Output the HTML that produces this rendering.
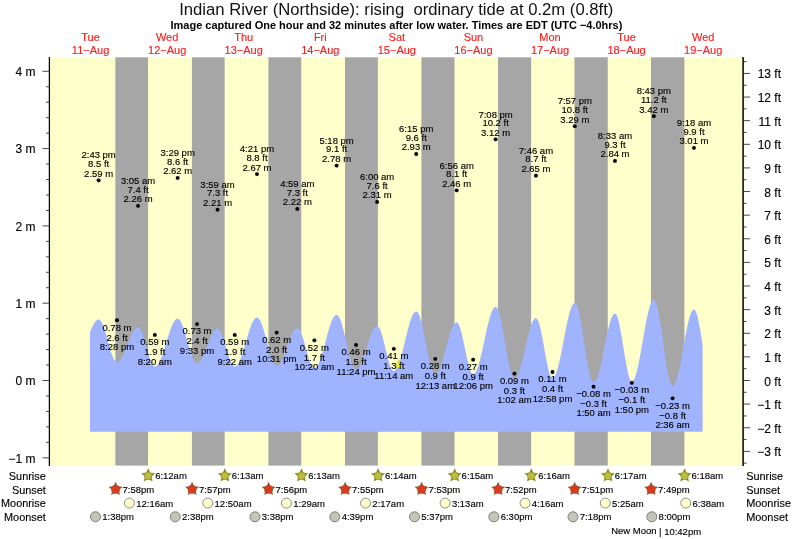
<!DOCTYPE html>
<html><head><meta charset="utf-8"><title>Indian River (Northside) tide times</title>
<style>html,body{margin:0;padding:0;background:#fff}svg{display:block;will-change:transform}</style></head>
<body>
<svg width="793" height="539" viewBox="0 0 793 539">
<rect width="793" height="539" fill="#fff"/>
<rect x="49.5" y="57.3" width="693.5" height="408.3" fill="#ffffcc"/>
<rect x="115.38" y="57.3" width="32.65" height="408.3" fill="#a6a6a6"/>
<rect x="191.90" y="57.3" width="32.76" height="408.3" fill="#a6a6a6"/>
<rect x="268.42" y="57.3" width="32.81" height="408.3" fill="#a6a6a6"/>
<rect x="344.95" y="57.3" width="32.92" height="408.3" fill="#a6a6a6"/>
<rect x="421.42" y="57.3" width="33.08" height="408.3" fill="#a6a6a6"/>
<rect x="497.94" y="57.3" width="33.18" height="408.3" fill="#a6a6a6"/>
<rect x="574.47" y="57.3" width="33.29" height="408.3" fill="#a6a6a6"/>
<rect x="650.94" y="57.3" width="33.45" height="408.3" fill="#a6a6a6"/>
<path d="M89.96,431.8 L89.96,332.41 90.40,331.26 90.83,330.14 91.27,329.07 91.71,328.03 92.15,327.04 92.58,326.11 93.02,325.22 93.46,324.39 93.90,323.62 94.33,322.91 94.77,322.26 95.21,321.67 95.65,321.15 96.08,320.70 96.52,320.32 96.96,320.01 97.40,319.76 97.83,319.60 98.27,319.50 98.71,319.48 99.15,319.56 99.59,319.76 100.02,320.08 100.46,320.52 100.90,321.07 101.34,321.73 101.77,322.50 102.21,323.37 102.65,324.34 103.09,325.40 103.52,326.54 103.96,327.77 104.40,329.07 104.84,330.44 105.27,331.86 105.71,333.34 106.15,334.85 106.59,336.40 107.02,337.98 107.46,339.57 107.90,341.16 108.34,342.76 108.77,344.34 109.21,345.91 109.65,347.44 110.09,348.94 110.52,350.39 110.96,351.79 111.40,353.13 111.84,354.40 112.28,355.59 112.71,356.70 113.15,357.71 113.59,358.64 114.03,359.46 114.46,360.18 114.90,360.79 115.34,361.29 115.78,361.68 116.21,361.94 116.65,362.09 117.09,362.12 117.53,362.06 117.96,361.93 118.40,361.73 118.84,361.45 119.28,361.11 119.71,360.69 120.15,360.21 120.59,359.66 121.03,359.05 121.46,358.37 121.90,357.64 122.34,356.85 122.78,356.01 123.21,355.13 123.65,354.20 124.09,353.23 124.53,352.22 124.96,351.18 125.40,350.11 125.84,349.02 126.28,347.91 126.72,346.79 127.15,345.66 127.59,344.53 128.03,343.39 128.47,342.26 128.90,341.15 129.34,340.04 129.78,338.96 130.22,337.90 130.65,336.87 131.09,335.87 131.53,334.91 131.97,333.99 132.40,333.12 132.84,332.30 133.28,331.52 133.72,330.81 134.15,330.15 134.59,329.55 135.03,329.02 135.47,328.56 135.90,328.16 136.34,327.84 136.78,327.58 137.22,327.40 137.65,327.29 138.09,327.25 138.53,327.32 138.97,327.52 139.41,327.85 139.84,328.31 140.28,328.90 140.72,329.60 141.16,330.43 141.59,331.36 142.03,332.40 142.47,333.53 142.91,334.76 143.34,336.07 143.78,337.45 144.22,338.90 144.66,340.39 145.09,341.94 145.53,343.51 145.97,345.11 146.41,346.73 146.84,348.34 147.28,349.94 147.72,351.53 148.16,353.08 148.59,354.59 149.03,356.05 149.47,357.45 149.91,358.78 150.34,360.02 150.78,361.18 151.22,362.25 151.66,363.21 152.10,364.06 152.53,364.79 152.97,365.41 153.41,365.90 153.85,366.26 154.28,366.49 154.72,366.59 155.16,366.58 155.60,366.47 156.03,366.27 156.47,366.00 156.91,365.63 157.35,365.18 157.78,364.66 158.22,364.05 158.66,363.36 159.10,362.60 159.53,361.77 159.97,360.86 160.41,359.90 160.85,358.86 161.28,357.77 161.72,356.63 162.16,355.43 162.60,354.19 163.03,352.91 163.47,351.59 163.91,350.24 164.35,348.86 164.78,347.45 165.22,346.03 165.66,344.60 166.10,343.16 166.54,341.72 166.97,340.28 167.41,338.86 167.85,337.44 168.29,336.05 168.72,334.67 169.16,333.33 169.60,332.02 170.04,330.75 170.47,329.53 170.91,328.35 171.35,327.22 171.79,326.15 172.22,325.14 172.66,324.19 173.10,323.31 173.54,322.50 173.97,321.77 174.41,321.11 174.85,320.53 175.29,320.02 175.72,319.61 176.16,319.27 176.60,319.02 177.04,318.86 177.47,318.78 177.91,318.79 178.35,318.91 178.79,319.15 179.23,319.49 179.66,319.95 180.10,320.51 180.54,321.17 180.98,321.94 181.41,322.80 181.85,323.75 182.29,324.79 182.73,325.91 183.16,327.11 183.60,328.37 184.04,329.71 184.48,331.09 184.91,332.53 185.35,334.01 185.79,335.53 186.23,337.08 186.66,338.64 187.10,340.22 187.54,341.80 187.98,343.38 188.41,344.94 188.85,346.49 189.29,348.00 189.73,349.49 190.16,350.93 190.60,352.32 191.04,353.65 191.48,354.92 191.91,356.12 192.35,357.25 192.79,358.29 193.23,359.24 193.67,360.11 194.10,360.87 194.54,361.54 194.98,362.10 195.42,362.56 195.85,362.91 196.29,363.15 196.73,363.28 197.17,363.30 197.60,363.23 198.04,363.08 198.48,362.86 198.92,362.56 199.35,362.19 199.79,361.74 200.23,361.22 200.67,360.64 201.10,359.98 201.54,359.27 201.98,358.49 202.42,357.66 202.85,356.77 203.29,355.84 203.73,354.86 204.17,353.84 204.60,352.78 205.04,351.69 205.48,350.58 205.92,349.45 206.36,348.30 206.79,347.14 207.23,345.97 207.67,344.80 208.11,343.64 208.54,342.49 208.98,341.35 209.42,340.24 209.86,339.14 210.29,338.08 210.73,337.06 211.17,336.07 211.61,335.13 212.04,334.23 212.48,333.39 212.92,332.60 213.36,331.87 213.79,331.21 214.23,330.61 214.67,330.08 215.11,329.62 215.54,329.23 215.98,328.92 216.42,328.68 216.86,328.52 217.29,328.44 217.73,328.44 218.17,328.56 218.61,328.80 219.05,329.16 219.48,329.63 219.92,330.22 220.36,330.92 220.80,331.73 221.23,332.64 221.67,333.64 222.11,334.73 222.55,335.90 222.98,337.15 223.42,338.47 223.86,339.84 224.30,341.26 224.73,342.72 225.17,344.21 225.61,345.73 226.05,347.25 226.48,348.78 226.92,350.30 227.36,351.80 227.80,353.27 228.23,354.71 228.67,356.10 229.11,357.43 229.55,358.70 229.98,359.90 230.42,361.03 230.86,362.06 231.30,363.00 231.73,363.84 232.17,364.58 232.61,365.21 233.05,365.72 233.49,366.12 233.92,366.40 234.36,366.56 234.80,366.60 235.24,366.53 235.67,366.37 236.11,366.12 236.55,365.78 236.99,365.35 237.42,364.83 237.86,364.22 238.30,363.53 238.74,362.76 239.17,361.90 239.61,360.98 240.05,359.98 240.49,358.91 240.92,357.78 241.36,356.59 241.80,355.34 242.24,354.05 242.67,352.71 243.11,351.32 243.55,349.91 243.99,348.46 244.42,346.99 244.86,345.50 245.30,344.00 245.74,342.49 246.18,340.98 246.61,339.47 247.05,337.97 247.49,336.49 247.93,335.03 248.36,333.60 248.80,332.20 249.24,330.83 249.68,329.51 250.11,328.24 250.55,327.02 250.99,325.86 251.43,324.76 251.86,323.72 252.30,322.76 252.74,321.87 253.18,321.05 253.61,320.32 254.05,319.67 254.49,319.10 254.93,318.62 255.36,318.23 255.80,317.94 256.24,317.73 256.68,317.62 257.11,317.60 257.55,317.69 257.99,317.90 258.43,318.22 258.86,318.66 259.30,319.22 259.74,319.88 260.18,320.65 260.62,321.52 261.05,322.49 261.49,323.56 261.93,324.71 262.37,325.95 262.80,327.26 263.24,328.65 263.68,330.10 264.12,331.60 264.55,333.16 264.99,334.75 265.43,336.39 265.87,338.04 266.30,339.72 266.74,341.40 267.18,343.09 267.62,344.77 268.05,346.43 268.49,348.08 268.93,349.69 269.37,351.26 269.80,352.79 270.24,354.26 270.68,355.67 271.12,357.01 271.55,358.28 271.99,359.47 272.43,360.57 272.87,361.58 273.31,362.49 273.74,363.31 274.18,364.01 274.62,364.61 275.06,365.10 275.49,365.47 275.93,365.73 276.37,365.86 276.81,365.89 277.24,365.82 277.68,365.67 278.12,365.43 278.56,365.12 278.99,364.72 279.43,364.25 279.87,363.70 280.31,363.07 280.74,362.38 281.18,361.61 281.62,360.78 282.06,359.89 282.49,358.95 282.93,357.95 283.37,356.90 283.81,355.81 284.24,354.68 284.68,353.52 285.12,352.32 285.56,351.11 286.00,349.87 286.43,348.62 286.87,347.37 287.31,346.11 287.75,344.86 288.18,343.62 288.62,342.40 289.06,341.19 289.50,340.01 289.93,338.86 290.37,337.75 290.81,336.68 291.25,335.65 291.68,334.68 292.12,333.76 292.56,332.90 293.00,332.10 293.43,331.37 293.87,330.71 294.31,330.12 294.75,329.60 295.18,329.16 295.62,328.81 296.06,328.53 296.50,328.34 296.93,328.22 297.37,328.20 297.81,328.28 298.25,328.50 298.68,328.84 299.12,329.31 299.56,329.90 300.00,330.61 300.44,331.44 300.87,332.37 301.31,333.40 301.75,334.54 302.19,335.76 302.62,337.06 303.06,338.43 303.50,339.87 303.94,341.36 304.37,342.90 304.81,344.47 305.25,346.06 305.69,347.67 306.12,349.28 306.56,350.89 307.00,352.48 307.44,354.04 307.87,355.56 308.31,357.03 308.75,358.45 309.19,359.80 309.62,361.08 310.06,362.27 310.50,363.38 310.94,364.38 311.37,365.28 311.81,366.07 312.25,366.74 312.69,367.29 313.13,367.72 313.56,368.03 314.00,368.20 314.44,368.25 314.88,368.18 315.31,368.01 315.75,367.74 316.19,367.38 316.63,366.91 317.06,366.34 317.50,365.69 317.94,364.94 318.38,364.10 318.81,363.17 319.25,362.16 319.69,361.08 320.13,359.92 320.56,358.68 321.00,357.39 321.44,356.03 321.88,354.62 322.31,353.16 322.75,351.66 323.19,350.11 323.63,348.54 324.06,346.93 324.50,345.31 324.94,343.67 325.38,342.03 325.81,340.38 326.25,338.74 326.69,337.11 327.13,335.50 327.57,333.91 328.00,332.35 328.44,330.82 328.88,329.34 329.32,327.91 329.75,326.52 330.19,325.19 330.63,323.93 331.07,322.74 331.50,321.61 331.94,320.57 332.38,319.60 332.82,318.72 333.25,317.92 333.69,317.22 334.13,316.61 334.57,316.09 335.00,315.67 335.44,315.36 335.88,315.14 336.32,315.02 336.75,315.01 337.19,315.13 337.63,315.38 338.07,315.76 338.50,316.28 338.94,316.93 339.38,317.71 339.82,318.61 340.26,319.62 340.69,320.75 341.13,321.99 341.57,323.33 342.01,324.76 342.44,326.28 342.88,327.88 343.32,329.56 343.76,331.29 344.19,333.09 344.63,334.92 345.07,336.80 345.51,338.70 345.94,340.62 346.38,342.55 346.82,344.48 347.26,346.40 347.69,348.30 348.13,350.16 348.57,351.99 349.01,353.77 349.44,355.49 349.88,357.15 350.32,358.74 350.76,360.24 351.19,361.65 351.63,362.97 352.07,364.18 352.51,365.28 352.95,366.27 353.38,367.14 353.82,367.89 354.26,368.51 354.70,369.00 355.13,369.35 355.57,369.58 356.01,369.66 356.45,369.63 356.88,369.50 357.32,369.28 357.76,368.97 358.20,368.57 358.63,368.08 359.07,367.50 359.51,366.84 359.95,366.11 360.38,365.29 360.82,364.40 361.26,363.44 361.70,362.41 362.13,361.32 362.57,360.17 363.01,358.97 363.45,357.72 363.88,356.43 364.32,355.11 364.76,353.75 365.20,352.37 365.63,350.97 366.07,349.56 366.51,348.13 366.95,346.71 367.39,345.30 367.82,343.89 368.26,342.50 368.70,341.13 369.14,339.80 369.57,338.49 370.01,337.23 370.45,336.01 370.89,334.84 371.32,333.73 371.76,332.68 372.20,331.69 372.64,330.77 373.07,329.93 373.51,329.16 373.95,328.47 374.39,327.86 374.82,327.34 375.26,326.91 375.70,326.56 376.14,326.31 376.57,326.15 377.01,326.08 377.45,326.12 377.89,326.31 378.32,326.65 378.76,327.13 379.20,327.76 379.64,328.54 380.08,329.44 380.51,330.48 380.95,331.63 381.39,332.91 381.83,334.28 382.26,335.75 382.70,337.31 383.14,338.95 383.58,340.65 384.01,342.40 384.45,344.19 384.89,346.01 385.33,347.85 385.76,349.69 386.20,351.52 386.64,353.34 387.08,355.12 387.51,356.85 387.95,358.53 388.39,360.14 388.83,361.67 389.26,363.11 389.70,364.45 390.14,365.69 390.58,366.80 391.01,367.80 391.45,368.66 391.89,369.38 392.33,369.96 392.76,370.40 393.20,370.69 393.64,370.83 394.08,370.82 394.52,370.70 394.95,370.47 395.39,370.12 395.83,369.67 396.27,369.11 396.70,368.44 397.14,367.67 397.58,366.80 398.02,365.84 398.45,364.78 398.89,363.63 399.33,362.40 399.77,361.09 400.20,359.70 400.64,358.24 401.08,356.72 401.52,355.14 401.95,353.51 402.39,351.83 402.83,350.11 403.27,348.36 403.70,346.58 404.14,344.77 404.58,342.96 405.02,341.14 405.45,339.32 405.89,337.50 406.33,335.70 406.77,333.92 407.21,332.17 407.64,330.45 408.08,328.77 408.52,327.14 408.96,325.56 409.39,324.04 409.83,322.58 410.27,321.19 410.71,319.88 411.14,318.65 411.58,317.51 412.02,316.45 412.46,315.49 412.89,314.62 413.33,313.85 413.77,313.19 414.21,312.63 414.64,312.18 415.08,311.84 415.52,311.60 415.96,311.48 416.39,311.48 416.83,311.63 417.27,311.94 417.71,312.42 418.14,313.05 418.58,313.83 419.02,314.77 419.46,315.85 419.90,317.07 420.33,318.42 420.77,319.90 421.21,321.50 421.65,323.21 422.08,325.03 422.52,326.93 422.96,328.91 423.40,330.97 423.83,333.09 424.27,335.26 424.71,337.46 425.15,339.70 425.58,341.95 426.02,344.20 426.46,346.45 426.90,348.67 427.33,350.87 427.77,353.02 428.21,355.12 428.65,357.15 429.08,359.11 429.52,360.98 429.96,362.76 430.40,364.43 430.83,365.99 431.27,367.43 431.71,368.74 432.15,369.91 432.58,370.94 433.02,371.83 433.46,372.56 433.90,373.13 434.34,373.55 434.77,373.81 435.21,373.90 435.65,373.86 436.09,373.71 436.52,373.45 436.96,373.10 437.40,372.63 437.84,372.07 438.27,371.41 438.71,370.66 439.15,369.81 439.59,368.88 440.02,367.86 440.46,366.75 440.90,365.58 441.34,364.33 441.77,363.01 442.21,361.64 442.65,360.20 443.09,358.72 443.52,357.20 443.96,355.64 444.40,354.05 444.84,352.43 445.27,350.80 445.71,349.16 446.15,347.51 446.59,345.87 447.03,344.23 447.46,342.61 447.90,341.02 448.34,339.45 448.78,337.92 449.21,336.44 449.65,335.00 450.09,333.61 450.53,332.29 450.96,331.03 451.40,329.84 451.84,328.73 452.28,327.70 452.71,326.75 453.15,325.89 453.59,325.13 454.03,324.45 454.46,323.88 454.90,323.40 455.34,323.03 455.78,322.76 456.21,322.60 456.65,322.54 457.09,322.62 457.53,322.88 457.96,323.31 458.40,323.92 458.84,324.70 459.28,325.65 459.71,326.75 460.15,328.00 460.59,329.39 461.03,330.91 461.47,332.56 461.90,334.31 462.34,336.17 462.78,338.10 463.22,340.11 463.65,342.18 464.09,344.28 464.53,346.42 464.97,348.57 465.40,350.72 465.84,352.85 466.28,354.95 466.72,357.00 467.15,359.00 467.59,360.92 468.03,362.75 468.47,364.48 468.90,366.10 469.34,367.60 469.78,368.96 470.22,370.18 470.65,371.25 471.09,372.16 471.53,372.90 471.97,373.47 472.40,373.87 472.84,374.09 473.28,374.13 473.72,374.04 474.16,373.81 474.59,373.47 475.03,373.00 475.47,372.40 475.91,371.69 476.34,370.86 476.78,369.92 477.22,368.87 477.66,367.71 478.09,366.45 478.53,365.09 478.97,363.64 479.41,362.11 479.84,360.49 480.28,358.80 480.72,357.04 481.16,355.22 481.59,353.34 482.03,351.41 482.47,349.45 482.91,347.45 483.34,345.42 483.78,343.38 484.22,341.33 484.66,339.27 485.09,337.22 485.53,335.18 485.97,333.16 486.41,331.17 486.85,329.22 487.28,327.30 487.72,325.44 488.16,323.63 488.60,321.89 489.03,320.22 489.47,318.62 489.91,317.11 490.35,315.68 490.78,314.35 491.22,313.11 491.66,311.98 492.10,310.95 492.53,310.04 492.97,309.24 493.41,308.56 493.85,308.00 494.28,307.56 494.72,307.24 495.16,307.05 495.60,306.99 496.03,307.08 496.47,307.36 496.91,307.83 497.35,308.49 497.78,309.33 498.22,310.35 498.66,311.53 499.10,312.89 499.53,314.40 499.97,316.07 500.41,317.87 500.85,319.81 501.29,321.87 501.72,324.04 502.16,326.31 502.60,328.67 503.04,331.10 503.47,333.60 503.91,336.14 504.35,338.72 504.79,341.32 505.22,343.92 505.66,346.52 506.10,349.10 506.54,351.65 506.97,354.14 507.41,356.58 507.85,358.94 508.29,361.22 508.72,363.39 509.16,365.46 509.60,367.40 510.04,369.22 510.47,370.89 510.91,372.41 511.35,373.77 511.79,374.97 512.22,375.99 512.66,376.84 513.10,377.51 513.54,377.99 513.98,378.28 514.41,378.38 514.85,378.32 515.29,378.14 515.73,377.84 516.16,377.41 516.60,376.87 517.04,376.21 517.48,375.43 517.91,374.55 518.35,373.55 518.79,372.45 519.23,371.26 519.66,369.96 520.10,368.58 520.54,367.12 520.98,365.58 521.41,363.96 521.85,362.29 522.29,360.55 522.73,358.77 523.16,356.94 523.60,355.08 524.04,353.18 524.48,351.27 524.91,349.35 525.35,347.42 525.79,345.49 526.23,343.58 526.66,341.68 527.10,339.81 527.54,337.98 527.98,336.18 528.42,334.44 528.85,332.75 529.29,331.13 529.73,329.58 530.17,328.10 530.60,326.70 531.04,325.40 531.48,324.18 531.92,323.07 532.35,322.05 532.79,321.15 533.23,320.36 533.67,319.67 534.10,319.11 534.54,318.67 534.98,318.34 535.42,318.14 535.85,318.06 536.29,318.14 536.73,318.42 537.17,318.90 537.60,319.59 538.04,320.46 538.48,321.53 538.92,322.78 539.35,324.20 539.79,325.78 540.23,327.52 540.67,329.40 541.11,331.40 541.54,333.52 541.98,335.74 542.42,338.04 542.86,340.41 543.29,342.83 543.73,345.29 544.17,347.76 544.61,350.24 545.04,352.70 545.48,355.13 545.92,357.51 546.36,359.83 546.79,362.06 547.23,364.20 547.67,366.22 548.11,368.12 548.54,369.89 548.98,371.50 549.42,372.95 549.86,374.23 550.29,375.33 550.73,376.24 551.17,376.96 551.61,377.48 552.04,377.80 552.48,377.91 552.92,377.84 553.36,377.64 553.80,377.29 554.23,376.80 554.67,376.17 555.11,375.41 555.55,374.52 555.98,373.49 556.42,372.34 556.86,371.07 557.30,369.68 557.73,368.18 558.17,366.57 558.61,364.87 559.05,363.07 559.48,361.18 559.92,359.22 560.36,357.19 560.80,355.09 561.23,352.93 561.67,350.73 562.11,348.49 562.55,346.22 562.98,343.93 563.42,341.62 563.86,339.31 564.30,337.00 564.73,334.71 565.17,332.44 565.61,330.20 566.05,328.00 566.48,325.84 566.92,323.74 567.36,321.71 567.80,319.74 568.24,317.86 568.67,316.06 569.11,314.35 569.55,312.74 569.99,311.24 570.42,309.85 570.86,308.57 571.30,307.42 571.74,306.39 572.17,305.50 572.61,304.73 573.05,304.10 573.49,303.61 573.92,303.26 574.36,303.05 574.80,302.98 575.24,303.10 575.67,303.42 576.11,303.96 576.55,304.70 576.99,305.65 577.42,306.79 577.86,308.13 578.30,309.65 578.74,311.36 579.17,313.22 579.61,315.25 580.05,317.42 580.49,319.73 580.93,322.16 581.36,324.70 581.80,327.34 582.24,330.06 582.68,332.85 583.11,335.69 583.55,338.57 583.99,341.47 584.43,344.37 584.86,347.27 585.30,350.15 585.74,352.98 586.18,355.76 586.61,358.46 587.05,361.09 587.49,363.61 587.93,366.02 588.36,368.31 588.80,370.46 589.24,372.46 589.68,374.30 590.11,375.98 590.55,377.47 590.99,378.78 591.43,379.89 591.86,380.80 592.30,381.51 592.74,382.01 593.18,382.30 593.61,382.38 594.05,382.29 594.49,382.06 594.93,381.69 595.37,381.18 595.80,380.54 596.24,379.76 596.68,378.85 597.12,377.81 597.55,376.65 597.99,375.37 598.43,373.98 598.87,372.48 599.30,370.89 599.74,369.19 600.18,367.41 600.62,365.55 601.05,363.62 601.49,361.63 601.93,359.57 602.37,357.47 602.80,355.33 603.24,353.16 603.68,350.97 604.12,348.77 604.55,346.56 604.99,344.36 605.43,342.18 605.87,340.02 606.30,337.89 606.74,335.80 607.18,333.76 607.62,331.79 608.06,329.87 608.49,328.04 608.93,326.28 609.37,324.62 609.81,323.05 610.24,321.58 610.68,320.22 611.12,318.97 611.56,317.85 611.99,316.85 612.43,315.98 612.87,315.23 613.31,314.63 613.74,314.16 614.18,313.83 614.62,313.64 615.06,313.59 615.49,313.74 615.93,314.11 616.37,314.70 616.81,315.51 617.24,316.53 617.68,317.76 618.12,319.18 618.56,320.79 618.99,322.58 619.43,324.53 619.87,326.64 620.31,328.88 620.75,331.25 621.18,333.72 621.62,336.29 622.06,338.92 622.50,341.62 622.93,344.35 623.37,347.10 623.81,349.86 624.25,352.60 624.68,355.30 625.12,357.95 625.56,360.54 626.00,363.03 626.43,365.42 626.87,367.69 627.31,369.82 627.75,371.81 628.18,373.64 628.62,375.29 629.06,376.75 629.50,378.02 629.93,379.08 630.37,379.94 630.81,380.58 631.25,381.00 631.68,381.19 632.12,381.18 632.56,380.99 633.00,380.66 633.43,380.16 633.87,379.51 634.31,378.71 634.75,377.76 635.19,376.66 635.62,375.42 636.06,374.04 636.50,372.53 636.94,370.90 637.37,369.15 637.81,367.29 638.25,365.32 638.69,363.26 639.12,361.10 639.56,358.87 640.00,356.56 640.44,354.19 640.87,351.77 641.31,349.31 641.75,346.81 642.19,344.28 642.62,341.74 643.06,339.20 643.50,336.66 643.94,334.14 644.37,331.64 644.81,329.18 645.25,326.76 645.69,324.40 646.12,322.09 646.56,319.87 647.00,317.72 647.44,315.66 647.88,313.70 648.31,311.85 648.75,310.10 649.19,308.48 649.63,306.98 650.06,305.62 650.50,304.39 650.94,303.30 651.38,302.36 651.81,301.56 652.25,300.93 652.69,300.44 653.13,300.11 653.56,299.95 654.00,299.94 654.44,300.16 654.88,300.61 655.31,301.28 655.75,302.18 656.19,303.29 656.63,304.62 657.06,306.15 657.50,307.88 657.94,309.80 658.38,311.89 658.81,314.15 659.25,316.57 659.69,319.12 660.13,321.81 660.56,324.60 661.00,327.50 661.44,330.48 661.88,333.52 662.32,336.62 662.75,339.75 663.19,342.89 663.63,346.04 664.07,349.17 664.50,352.26 664.94,355.31 665.38,358.29 665.82,361.19 666.25,363.99 666.69,366.67 667.13,369.23 667.57,371.65 668.00,373.91 668.44,376.01 668.88,377.93 669.32,379.66 669.75,381.20 670.19,382.53 670.63,383.65 671.07,384.55 671.50,385.22 671.94,385.67 672.38,385.89 672.82,385.90 673.25,385.73 673.69,385.41 674.13,384.93 674.57,384.30 675.01,383.52 675.44,382.59 675.88,381.52 676.32,380.30 676.76,378.96 677.19,377.48 677.63,375.88 678.07,374.16 678.51,372.34 678.94,370.41 679.38,368.39 679.82,366.29 680.26,364.10 680.69,361.85 681.13,359.54 681.57,357.19 682.01,354.79 682.44,352.37 682.88,349.92 683.32,347.47 683.76,345.02 684.19,342.58 684.63,340.16 685.07,337.77 685.51,335.42 685.94,333.13 686.38,330.89 686.82,328.72 687.26,326.64 687.70,324.64 688.13,322.73 688.57,320.93 689.01,319.24 689.45,317.67 689.88,316.22 690.32,314.91 690.76,313.72 691.20,312.68 691.63,311.79 692.07,311.04 692.51,310.44 692.95,310.00 693.38,309.72 693.82,309.59 694.26,309.63 694.70,309.90 695.13,310.38 695.57,311.07 696.01,311.98 696.45,313.09 696.88,314.41 697.32,315.91 697.76,317.60 698.20,319.46 698.63,321.48 699.07,323.65 699.51,325.96 699.95,328.39 700.38,330.93 700.82,333.55 701.26,336.26 701.70,339.02 702.14,341.83 702.57,344.66 L702.57,431.8 Z" fill="#a0b3ff"/>
<g stroke="#000" stroke-width="1.25">
<line x1="49.4" y1="57.099999999999994" x2="49.4" y2="466.0"/>
<line x1="743.1" y1="57.099999999999994" x2="743.1" y2="466.0" stroke-width="1.5"/>
</g><g stroke="#1a1a1a" stroke-width="0.8">
<line x1="42.5" y1="457.80" x2="49.5" y2="457.80"/>
<line x1="46.0" y1="442.34" x2="49.5" y2="442.34"/>
<line x1="46.0" y1="426.88" x2="49.5" y2="426.88"/>
<line x1="46.0" y1="411.42" x2="49.5" y2="411.42"/>
<line x1="46.0" y1="395.96" x2="49.5" y2="395.96"/>
<line x1="42.5" y1="380.50" x2="49.5" y2="380.50"/>
<line x1="46.0" y1="365.04" x2="49.5" y2="365.04"/>
<line x1="46.0" y1="349.58" x2="49.5" y2="349.58"/>
<line x1="46.0" y1="334.12" x2="49.5" y2="334.12"/>
<line x1="46.0" y1="318.66" x2="49.5" y2="318.66"/>
<line x1="42.5" y1="303.20" x2="49.5" y2="303.20"/>
<line x1="46.0" y1="287.74" x2="49.5" y2="287.74"/>
<line x1="46.0" y1="272.28" x2="49.5" y2="272.28"/>
<line x1="46.0" y1="256.82" x2="49.5" y2="256.82"/>
<line x1="46.0" y1="241.36" x2="49.5" y2="241.36"/>
<line x1="42.5" y1="225.90" x2="49.5" y2="225.90"/>
<line x1="46.0" y1="210.44" x2="49.5" y2="210.44"/>
<line x1="46.0" y1="194.98" x2="49.5" y2="194.98"/>
<line x1="46.0" y1="179.52" x2="49.5" y2="179.52"/>
<line x1="46.0" y1="164.06" x2="49.5" y2="164.06"/>
<line x1="42.5" y1="148.60" x2="49.5" y2="148.60"/>
<line x1="46.0" y1="133.14" x2="49.5" y2="133.14"/>
<line x1="46.0" y1="117.68" x2="49.5" y2="117.68"/>
<line x1="46.0" y1="102.22" x2="49.5" y2="102.22"/>
<line x1="46.0" y1="86.76" x2="49.5" y2="86.76"/>
<line x1="42.5" y1="71.30" x2="49.5" y2="71.30"/>
<line x1="743.0" y1="463.17" x2="746.5" y2="463.17"/>
<line x1="743.0" y1="451.36" x2="750.0" y2="451.36"/>
<line x1="743.0" y1="439.55" x2="746.5" y2="439.55"/>
<line x1="743.0" y1="427.74" x2="750.0" y2="427.74"/>
<line x1="743.0" y1="415.93" x2="746.5" y2="415.93"/>
<line x1="743.0" y1="404.12" x2="750.0" y2="404.12"/>
<line x1="743.0" y1="392.31" x2="746.5" y2="392.31"/>
<line x1="743.0" y1="380.50" x2="750.0" y2="380.50"/>
<line x1="743.0" y1="368.69" x2="746.5" y2="368.69"/>
<line x1="743.0" y1="356.88" x2="750.0" y2="356.88"/>
<line x1="743.0" y1="345.07" x2="746.5" y2="345.07"/>
<line x1="743.0" y1="333.26" x2="750.0" y2="333.26"/>
<line x1="743.0" y1="321.45" x2="746.5" y2="321.45"/>
<line x1="743.0" y1="309.64" x2="750.0" y2="309.64"/>
<line x1="743.0" y1="297.83" x2="746.5" y2="297.83"/>
<line x1="743.0" y1="286.02" x2="750.0" y2="286.02"/>
<line x1="743.0" y1="274.21" x2="746.5" y2="274.21"/>
<line x1="743.0" y1="262.40" x2="750.0" y2="262.40"/>
<line x1="743.0" y1="250.59" x2="746.5" y2="250.59"/>
<line x1="743.0" y1="238.78" x2="750.0" y2="238.78"/>
<line x1="743.0" y1="226.97" x2="746.5" y2="226.97"/>
<line x1="743.0" y1="215.16" x2="750.0" y2="215.16"/>
<line x1="743.0" y1="203.35" x2="746.5" y2="203.35"/>
<line x1="743.0" y1="191.54" x2="750.0" y2="191.54"/>
<line x1="743.0" y1="179.73" x2="746.5" y2="179.73"/>
<line x1="743.0" y1="167.92" x2="750.0" y2="167.92"/>
<line x1="743.0" y1="156.11" x2="746.5" y2="156.11"/>
<line x1="743.0" y1="144.30" x2="750.0" y2="144.30"/>
<line x1="743.0" y1="132.49" x2="746.5" y2="132.49"/>
<line x1="743.0" y1="120.68" x2="750.0" y2="120.68"/>
<line x1="743.0" y1="108.87" x2="746.5" y2="108.87"/>
<line x1="743.0" y1="97.06" x2="750.0" y2="97.06"/>
<line x1="743.0" y1="85.25" x2="746.5" y2="85.25"/>
<line x1="743.0" y1="73.44" x2="750.0" y2="73.44"/>
<line x1="743.0" y1="61.63" x2="746.5" y2="61.63"/>
</g>
<g font-family="'Liberation Sans', Arial, Helvetica, sans-serif" fill="#000" stroke="#000" stroke-width="0.14">
<text x="35.5" y="462.50" font-size="12" text-anchor="end">−1 m</text>
<text x="35.5" y="385.20" font-size="12" text-anchor="end">0 m</text>
<text x="35.5" y="307.90" font-size="12" text-anchor="end">1 m</text>
<text x="35.5" y="230.60" font-size="12" text-anchor="end">2 m</text>
<text x="35.5" y="153.30" font-size="12" text-anchor="end">3 m</text>
<text x="35.5" y="76.00" font-size="12" text-anchor="end">4 m</text>
<text x="781" y="456.36" font-size="12" text-anchor="end">−3 ft</text>
<text x="781" y="432.74" font-size="12" text-anchor="end">−2 ft</text>
<text x="781" y="409.12" font-size="12" text-anchor="end">−1 ft</text>
<text x="781" y="385.50" font-size="12" text-anchor="end">0 ft</text>
<text x="781" y="361.88" font-size="12" text-anchor="end">1 ft</text>
<text x="781" y="338.26" font-size="12" text-anchor="end">2 ft</text>
<text x="781" y="314.64" font-size="12" text-anchor="end">3 ft</text>
<text x="781" y="291.02" font-size="12" text-anchor="end">4 ft</text>
<text x="781" y="267.40" font-size="12" text-anchor="end">5 ft</text>
<text x="781" y="243.78" font-size="12" text-anchor="end">6 ft</text>
<text x="781" y="220.16" font-size="12" text-anchor="end">7 ft</text>
<text x="781" y="196.54" font-size="12" text-anchor="end">8 ft</text>
<text x="781" y="172.92" font-size="12" text-anchor="end">9 ft</text>
<text x="781" y="149.30" font-size="12" text-anchor="end">10 ft</text>
<text x="781" y="125.68" font-size="12" text-anchor="end">11 ft</text>
<text x="781" y="102.06" font-size="12" text-anchor="end">12 ft</text>
<text x="781" y="78.44" font-size="12" text-anchor="end">13 ft</text>
<text x="396.3" y="14.5" font-size="16.66" stroke="none" fill="#111" text-anchor="middle" xml:space="preserve" style="white-space:pre">Indian River (Northside): rising  ordinary tide at 0.2m (0.8ft)</text>
<text x="396.45" y="28.5" font-size="10.97" stroke="none" font-weight="bold" text-anchor="middle">Image captured One hour and 32 minutes after low water. Times are EDT (UTC −4.0hrs)</text>
<text x="90.56" y="41.2" font-size="11" fill="#ff1a1a" stroke="#ff1a1a" text-anchor="middle">Tue</text>
<text x="90.56" y="53.6" font-size="11" fill="#ff1a1a" stroke="#ff1a1a" text-anchor="middle">11−Aug</text>
<text x="167.14" y="41.2" font-size="11" fill="#ff1a1a" stroke="#ff1a1a" text-anchor="middle">Wed</text>
<text x="167.14" y="53.6" font-size="11" fill="#ff1a1a" stroke="#ff1a1a" text-anchor="middle">12−Aug</text>
<text x="243.71" y="41.2" font-size="11" fill="#ff1a1a" stroke="#ff1a1a" text-anchor="middle">Thu</text>
<text x="243.71" y="53.6" font-size="11" fill="#ff1a1a" stroke="#ff1a1a" text-anchor="middle">13−Aug</text>
<text x="320.29" y="41.2" font-size="11" fill="#ff1a1a" stroke="#ff1a1a" text-anchor="middle">Fri</text>
<text x="320.29" y="53.6" font-size="11" fill="#ff1a1a" stroke="#ff1a1a" text-anchor="middle">14−Aug</text>
<text x="396.87" y="41.2" font-size="11" fill="#ff1a1a" stroke="#ff1a1a" text-anchor="middle">Sat</text>
<text x="396.87" y="53.6" font-size="11" fill="#ff1a1a" stroke="#ff1a1a" text-anchor="middle">15−Aug</text>
<text x="473.44" y="41.2" font-size="11" fill="#ff1a1a" stroke="#ff1a1a" text-anchor="middle">Sun</text>
<text x="473.44" y="53.6" font-size="11" fill="#ff1a1a" stroke="#ff1a1a" text-anchor="middle">16−Aug</text>
<text x="550.02" y="41.2" font-size="11" fill="#ff1a1a" stroke="#ff1a1a" text-anchor="middle">Mon</text>
<text x="550.02" y="53.6" font-size="11" fill="#ff1a1a" stroke="#ff1a1a" text-anchor="middle">17−Aug</text>
<text x="626.60" y="41.2" font-size="11" fill="#ff1a1a" stroke="#ff1a1a" text-anchor="middle">Tue</text>
<text x="626.60" y="53.6" font-size="11" fill="#ff1a1a" stroke="#ff1a1a" text-anchor="middle">18−Aug</text>
<text x="703.17" y="41.2" font-size="11" fill="#ff1a1a" stroke="#ff1a1a" text-anchor="middle">Wed</text>
<text x="703.17" y="53.6" font-size="11" fill="#ff1a1a" stroke="#ff1a1a" text-anchor="middle">19−Aug</text>
<path d="M398.5,359.7 L403.1,367.8 L395.6,367.8 Z" fill="#f2f230" stroke="#b4b420" stroke-width="0.5"/>
<circle cx="98.63" cy="180.29" r="1.9" fill="#000"/>
<text x="98.63" y="176.69" font-size="9.5" text-anchor="middle">2.59 m</text>
<text x="98.63" y="166.99" font-size="9.5" text-anchor="middle">8.5 ft</text>
<text x="98.63" y="158.49" font-size="9.5" text-anchor="middle">2:43 pm</text>
<circle cx="116.97" cy="320.21" r="1.9" fill="#000"/>
<text x="116.97" y="330.51" font-size="9.5" text-anchor="middle">0.78 m</text>
<text x="116.97" y="340.61" font-size="9.5" text-anchor="middle">2.6 ft</text>
<text x="116.97" y="349.91" font-size="9.5" text-anchor="middle">8:28 pm</text>
<circle cx="138.08" cy="205.80" r="1.9" fill="#000"/>
<text x="138.08" y="202.20" font-size="9.5" text-anchor="middle">2.26 m</text>
<text x="138.08" y="192.50" font-size="9.5" text-anchor="middle">7.4 ft</text>
<text x="138.08" y="184.00" font-size="9.5" text-anchor="middle">3:05 am</text>
<circle cx="154.84" cy="334.89" r="1.9" fill="#000"/>
<text x="154.84" y="345.19" font-size="9.5" text-anchor="middle">0.59 m</text>
<text x="154.84" y="355.29" font-size="9.5" text-anchor="middle">1.9 ft</text>
<text x="154.84" y="364.59" font-size="9.5" text-anchor="middle">8:20 am</text>
<circle cx="177.65" cy="177.97" r="1.9" fill="#000"/>
<text x="177.65" y="174.37" font-size="9.5" text-anchor="middle">2.62 m</text>
<text x="177.65" y="164.67" font-size="9.5" text-anchor="middle">8.6 ft</text>
<text x="177.65" y="156.17" font-size="9.5" text-anchor="middle">3:29 pm</text>
<circle cx="197.01" cy="324.07" r="1.9" fill="#000"/>
<text x="197.01" y="334.37" font-size="9.5" text-anchor="middle">0.73 m</text>
<text x="197.01" y="344.47" font-size="9.5" text-anchor="middle">2.4 ft</text>
<text x="197.01" y="353.77" font-size="9.5" text-anchor="middle">9:33 pm</text>
<circle cx="217.53" cy="209.67" r="1.9" fill="#000"/>
<text x="217.53" y="206.07" font-size="9.5" text-anchor="middle">2.21 m</text>
<text x="217.53" y="196.37" font-size="9.5" text-anchor="middle">7.3 ft</text>
<text x="217.53" y="187.87" font-size="9.5" text-anchor="middle">3:59 am</text>
<circle cx="234.71" cy="334.89" r="1.9" fill="#000"/>
<text x="234.71" y="345.19" font-size="9.5" text-anchor="middle">0.59 m</text>
<text x="234.71" y="355.29" font-size="9.5" text-anchor="middle">1.9 ft</text>
<text x="234.71" y="364.59" font-size="9.5" text-anchor="middle">9:22 am</text>
<circle cx="256.99" cy="174.11" r="1.9" fill="#000"/>
<text x="256.99" y="170.51" font-size="9.5" text-anchor="middle">2.67 m</text>
<text x="256.99" y="160.81" font-size="9.5" text-anchor="middle">8.8 ft</text>
<text x="256.99" y="152.31" font-size="9.5" text-anchor="middle">4:21 pm</text>
<circle cx="276.67" cy="332.57" r="1.9" fill="#000"/>
<text x="276.67" y="342.87" font-size="9.5" text-anchor="middle">0.62 m</text>
<text x="276.67" y="352.97" font-size="9.5" text-anchor="middle">2.0 ft</text>
<text x="276.67" y="362.27" font-size="9.5" text-anchor="middle">10:31 pm</text>
<circle cx="297.30" cy="208.89" r="1.9" fill="#000"/>
<text x="297.30" y="205.29" font-size="9.5" text-anchor="middle">2.22 m</text>
<text x="297.30" y="195.59" font-size="9.5" text-anchor="middle">7.3 ft</text>
<text x="297.30" y="187.09" font-size="9.5" text-anchor="middle">4:59 am</text>
<circle cx="314.37" cy="340.30" r="1.9" fill="#000"/>
<text x="314.37" y="350.60" font-size="9.5" text-anchor="middle">0.52 m</text>
<text x="314.37" y="360.70" font-size="9.5" text-anchor="middle">1.7 ft</text>
<text x="314.37" y="370.00" font-size="9.5" text-anchor="middle">10:20 am</text>
<circle cx="336.60" cy="165.61" r="1.9" fill="#000"/>
<text x="336.60" y="162.01" font-size="9.5" text-anchor="middle">2.78 m</text>
<text x="336.60" y="152.31" font-size="9.5" text-anchor="middle">9.1 ft</text>
<text x="336.60" y="143.81" font-size="9.5" text-anchor="middle">5:18 pm</text>
<circle cx="356.06" cy="344.94" r="1.9" fill="#000"/>
<text x="356.06" y="355.24" font-size="9.5" text-anchor="middle">0.46 m</text>
<text x="356.06" y="365.34" font-size="9.5" text-anchor="middle">1.5 ft</text>
<text x="356.06" y="374.64" font-size="9.5" text-anchor="middle">11:24 pm</text>
<circle cx="377.12" cy="201.94" r="1.9" fill="#000"/>
<text x="377.12" y="198.34" font-size="9.5" text-anchor="middle">2.31 m</text>
<text x="377.12" y="188.64" font-size="9.5" text-anchor="middle">7.6 ft</text>
<text x="377.12" y="180.14" font-size="9.5" text-anchor="middle">6:00 am</text>
<circle cx="393.82" cy="348.81" r="1.9" fill="#000"/>
<text x="393.82" y="359.11" font-size="9.5" text-anchor="middle">0.41 m</text>
<text x="393.82" y="369.21" font-size="9.5" text-anchor="middle">1.3 ft</text>
<text x="393.82" y="378.51" font-size="9.5" text-anchor="middle">11:14 am</text>
<circle cx="416.21" cy="154.01" r="1.9" fill="#000"/>
<text x="416.21" y="150.41" font-size="9.5" text-anchor="middle">2.93 m</text>
<text x="416.21" y="140.71" font-size="9.5" text-anchor="middle">9.6 ft</text>
<text x="416.21" y="132.21" font-size="9.5" text-anchor="middle">6:15 pm</text>
<circle cx="435.25" cy="358.86" r="1.9" fill="#000"/>
<text x="435.25" y="369.16" font-size="9.5" text-anchor="middle">0.28 m</text>
<text x="435.25" y="379.26" font-size="9.5" text-anchor="middle">0.9 ft</text>
<text x="435.25" y="388.56" font-size="9.5" text-anchor="middle">12:13 am</text>
<circle cx="456.68" cy="190.34" r="1.9" fill="#000"/>
<text x="456.68" y="186.74" font-size="9.5" text-anchor="middle">2.46 m</text>
<text x="456.68" y="177.04" font-size="9.5" text-anchor="middle">8.1 ft</text>
<text x="456.68" y="168.54" font-size="9.5" text-anchor="middle">6:56 am</text>
<circle cx="473.16" cy="359.63" r="1.9" fill="#000"/>
<text x="473.16" y="369.93" font-size="9.5" text-anchor="middle">0.27 m</text>
<text x="473.16" y="380.03" font-size="9.5" text-anchor="middle">0.9 ft</text>
<text x="473.16" y="389.33" font-size="9.5" text-anchor="middle">12:06 pm</text>
<circle cx="495.60" cy="139.32" r="1.9" fill="#000"/>
<text x="495.60" y="135.72" font-size="9.5" text-anchor="middle">3.12 m</text>
<text x="495.60" y="126.02" font-size="9.5" text-anchor="middle">10.2 ft</text>
<text x="495.60" y="117.52" font-size="9.5" text-anchor="middle">7:08 pm</text>
<circle cx="514.43" cy="373.54" r="1.9" fill="#000"/>
<text x="514.43" y="383.84" font-size="9.5" text-anchor="middle">0.09 m</text>
<text x="514.43" y="393.94" font-size="9.5" text-anchor="middle">0.3 ft</text>
<text x="514.43" y="403.24" font-size="9.5" text-anchor="middle">1:02 am</text>
<circle cx="535.91" cy="175.66" r="1.9" fill="#000"/>
<text x="535.91" y="172.06" font-size="9.5" text-anchor="middle">2.65 m</text>
<text x="535.91" y="162.35" font-size="9.5" text-anchor="middle">8.7 ft</text>
<text x="535.91" y="153.85" font-size="9.5" text-anchor="middle">7:46 am</text>
<circle cx="552.50" cy="372.00" r="1.9" fill="#000"/>
<text x="552.50" y="382.30" font-size="9.5" text-anchor="middle">0.11 m</text>
<text x="552.50" y="392.40" font-size="9.5" text-anchor="middle">0.4 ft</text>
<text x="552.50" y="401.70" font-size="9.5" text-anchor="middle">12:58 pm</text>
<circle cx="574.79" cy="126.18" r="1.9" fill="#000"/>
<text x="574.79" y="122.58" font-size="9.5" text-anchor="middle">3.29 m</text>
<text x="574.79" y="112.88" font-size="9.5" text-anchor="middle">10.8 ft</text>
<text x="574.79" y="104.38" font-size="9.5" text-anchor="middle">7:57 pm</text>
<circle cx="593.56" cy="386.68" r="1.9" fill="#000"/>
<text x="593.56" y="396.98" font-size="9.5" text-anchor="middle">−0.08 m</text>
<text x="593.56" y="407.08" font-size="9.5" text-anchor="middle">−0.3 ft</text>
<text x="593.56" y="416.38" font-size="9.5" text-anchor="middle">1:50 am</text>
<circle cx="614.99" cy="160.97" r="1.9" fill="#000"/>
<text x="614.99" y="157.37" font-size="9.5" text-anchor="middle">2.84 m</text>
<text x="614.99" y="147.67" font-size="9.5" text-anchor="middle">9.3 ft</text>
<text x="614.99" y="139.17" font-size="9.5" text-anchor="middle">8:33 am</text>
<circle cx="631.85" cy="382.82" r="1.9" fill="#000"/>
<text x="631.85" y="393.12" font-size="9.5" text-anchor="middle">−0.03 m</text>
<text x="631.85" y="403.22" font-size="9.5" text-anchor="middle">−0.1 ft</text>
<text x="631.85" y="412.52" font-size="9.5" text-anchor="middle">1:50 pm</text>
<circle cx="653.81" cy="116.13" r="1.9" fill="#000"/>
<text x="653.81" y="112.53" font-size="9.5" text-anchor="middle">3.42 m</text>
<text x="653.81" y="102.83" font-size="9.5" text-anchor="middle">11.2 ft</text>
<text x="653.81" y="94.33" font-size="9.5" text-anchor="middle">8:43 pm</text>
<circle cx="672.58" cy="398.28" r="1.9" fill="#000"/>
<text x="672.58" y="408.58" font-size="9.5" text-anchor="middle">−0.23 m</text>
<text x="672.58" y="418.68" font-size="9.5" text-anchor="middle">−0.8 ft</text>
<text x="672.58" y="427.98" font-size="9.5" text-anchor="middle">2:36 am</text>
<circle cx="693.96" cy="147.83" r="1.9" fill="#000"/>
<text x="693.96" y="144.23" font-size="9.5" text-anchor="middle">3.01 m</text>
<text x="693.96" y="134.53" font-size="9.5" text-anchor="middle">9.9 ft</text>
<text x="693.96" y="126.03" font-size="9.5" text-anchor="middle">9:18 am</text>
<text x="45.8" y="480.0" font-size="10.9" text-anchor="end">Sunrise</text>
<text x="746.2" y="480.0" font-size="10.9">Sunrise</text>
<text x="45.8" y="493.5" font-size="10.9" text-anchor="end">Sunset</text>
<text x="746.2" y="493.5" font-size="10.9">Sunset</text>
<text x="45.8" y="507.3" font-size="10.9" text-anchor="end">Moonrise</text>
<text x="746.2" y="507.3" font-size="10.9">Moonrise</text>
<text x="45.8" y="520.8" font-size="10.9" text-anchor="end">Moonset</text>
<text x="746.2" y="520.8" font-size="10.9">Moonset</text>
<polygon points="148.23,468.80 150.05,473.09 154.70,473.50 151.18,476.56 152.23,481.10 148.23,478.70 144.23,481.10 145.28,476.56 141.76,473.50 146.41,473.09" fill="#85851f" stroke="#85851f" stroke-width="0.5" stroke-linejoin="miter"/><circle cx="148.23" cy="475.90" r="3.8" fill="#bcbc3e" stroke="#85851f" stroke-width="0.5"/>
<text x="155.13" y="479.20" font-size="9.5">6:12am</text>
<polygon points="115.58,482.30 117.40,486.59 122.04,487.00 118.53,490.06 119.57,494.60 115.58,492.20 111.58,494.60 112.63,490.06 109.11,487.00 113.76,486.59" fill="#8a5526" stroke="#8a5526" stroke-width="0.5" stroke-linejoin="miter"/><circle cx="115.58" cy="489.40" r="4.1" fill="#dc3a20" stroke="#8a5526" stroke-width="0.5"/>
<text x="122.48" y="493.40" font-size="9.5">7:58pm</text>
<circle cx="129.40" cy="503.1" r="5.0" fill="#ffffcc" stroke="#8f8f88" stroke-width="1"/>
<text x="136.20" y="506.50" font-size="9.5">12:16am</text>
<circle cx="95.47" cy="516.8" r="5.0" fill="#c6c6b8" stroke="#7d7d78" stroke-width="1"/>
<text x="102.27" y="520.40" font-size="9.5">1:38pm</text>
<polygon points="224.86,468.80 226.68,473.09 231.33,473.50 227.81,476.56 228.86,481.10 224.86,478.70 220.86,481.10 221.91,476.56 218.39,473.50 223.04,473.09" fill="#85851f" stroke="#85851f" stroke-width="0.5" stroke-linejoin="miter"/><circle cx="224.86" cy="475.90" r="3.8" fill="#bcbc3e" stroke="#85851f" stroke-width="0.5"/>
<text x="231.76" y="479.20" font-size="9.5">6:13am</text>
<polygon points="192.10,482.30 193.92,486.59 198.57,487.00 195.05,490.06 196.10,494.60 192.10,492.20 188.10,494.60 189.15,490.06 185.63,487.00 190.28,486.59" fill="#8a5526" stroke="#8a5526" stroke-width="0.5" stroke-linejoin="miter"/><circle cx="192.10" cy="489.40" r="4.1" fill="#dc3a20" stroke="#8a5526" stroke-width="0.5"/>
<text x="199.00" y="493.40" font-size="9.5">7:57pm</text>
<circle cx="207.78" cy="503.1" r="5.0" fill="#ffffcc" stroke="#8f8f88" stroke-width="1"/>
<text x="214.58" y="506.50" font-size="9.5">12:50am</text>
<circle cx="175.24" cy="516.8" r="5.0" fill="#c6c6b8" stroke="#7d7d78" stroke-width="1"/>
<text x="182.04" y="520.40" font-size="9.5">2:38pm</text>
<polygon points="301.44,468.80 303.26,473.09 307.90,473.50 304.38,476.56 305.43,481.10 301.44,478.70 297.44,481.10 298.49,476.56 294.97,473.50 299.61,473.09" fill="#85851f" stroke="#85851f" stroke-width="0.5" stroke-linejoin="miter"/><circle cx="301.44" cy="475.90" r="3.8" fill="#bcbc3e" stroke="#85851f" stroke-width="0.5"/>
<text x="308.34" y="479.20" font-size="9.5">6:13am</text>
<polygon points="268.62,482.30 270.45,486.59 275.09,487.00 271.57,490.06 272.62,494.60 268.62,492.20 264.63,494.60 265.68,490.06 262.16,487.00 266.80,486.59" fill="#8a5526" stroke="#8a5526" stroke-width="0.5" stroke-linejoin="miter"/><circle cx="268.62" cy="489.40" r="4.1" fill="#dc3a20" stroke="#8a5526" stroke-width="0.5"/>
<text x="275.52" y="493.40" font-size="9.5">7:56pm</text>
<circle cx="286.43" cy="503.1" r="5.0" fill="#ffffcc" stroke="#8f8f88" stroke-width="1"/>
<text x="293.23" y="506.50" font-size="9.5">1:29am</text>
<circle cx="255.00" cy="516.8" r="5.0" fill="#c6c6b8" stroke="#7d7d78" stroke-width="1"/>
<text x="261.80" y="520.40" font-size="9.5">3:38pm</text>
<polygon points="378.07,468.80 379.89,473.09 384.53,473.50 381.01,476.56 382.06,481.10 378.07,478.70 374.07,481.10 375.12,476.56 371.60,473.50 376.24,473.09" fill="#85851f" stroke="#85851f" stroke-width="0.5" stroke-linejoin="miter"/><circle cx="378.07" cy="475.90" r="3.8" fill="#bcbc3e" stroke="#85851f" stroke-width="0.5"/>
<text x="384.97" y="479.20" font-size="9.5">6:14am</text>
<polygon points="345.15,482.30 346.97,486.59 351.62,487.00 348.10,490.06 349.15,494.60 345.15,492.20 341.15,494.60 342.20,490.06 338.68,487.00 343.33,486.59" fill="#8a5526" stroke="#8a5526" stroke-width="0.5" stroke-linejoin="miter"/><circle cx="345.15" cy="489.40" r="4.1" fill="#dc3a20" stroke="#8a5526" stroke-width="0.5"/>
<text x="352.05" y="493.40" font-size="9.5">7:55pm</text>
<circle cx="365.56" cy="503.1" r="5.0" fill="#ffffcc" stroke="#8f8f88" stroke-width="1"/>
<text x="372.36" y="506.50" font-size="9.5">2:17am</text>
<circle cx="334.83" cy="516.8" r="5.0" fill="#c6c6b8" stroke="#7d7d78" stroke-width="1"/>
<text x="341.63" y="520.40" font-size="9.5">4:39pm</text>
<polygon points="454.70,468.80 456.52,473.09 461.16,473.50 457.64,476.56 458.69,481.10 454.70,478.70 450.70,481.10 451.75,476.56 448.23,473.50 452.87,473.09" fill="#85851f" stroke="#85851f" stroke-width="0.5" stroke-linejoin="miter"/><circle cx="454.70" cy="475.90" r="3.8" fill="#bcbc3e" stroke="#85851f" stroke-width="0.5"/>
<text x="461.60" y="479.20" font-size="9.5">6:15am</text>
<polygon points="421.62,482.30 423.44,486.59 428.09,487.00 424.57,490.06 425.62,494.60 421.62,492.20 417.62,494.60 418.67,490.06 415.15,487.00 419.80,486.59" fill="#8a5526" stroke="#8a5526" stroke-width="0.5" stroke-linejoin="miter"/><circle cx="421.62" cy="489.40" r="4.1" fill="#dc3a20" stroke="#8a5526" stroke-width="0.5"/>
<text x="428.52" y="493.40" font-size="9.5">7:53pm</text>
<circle cx="445.12" cy="503.1" r="5.0" fill="#ffffcc" stroke="#8f8f88" stroke-width="1"/>
<text x="451.92" y="506.50" font-size="9.5">3:13am</text>
<circle cx="414.49" cy="516.8" r="5.0" fill="#c6c6b8" stroke="#7d7d78" stroke-width="1"/>
<text x="421.29" y="520.40" font-size="9.5">5:37pm</text>
<polygon points="531.33,468.80 533.15,473.09 537.79,473.50 534.27,476.56 535.32,481.10 531.33,478.70 527.33,481.10 528.38,476.56 524.86,473.50 529.50,473.09" fill="#85851f" stroke="#85851f" stroke-width="0.5" stroke-linejoin="miter"/><circle cx="531.33" cy="475.90" r="3.8" fill="#bcbc3e" stroke="#85851f" stroke-width="0.5"/>
<text x="538.23" y="479.20" font-size="9.5">6:16am</text>
<polygon points="498.14,482.30 499.96,486.59 504.61,487.00 501.09,490.06 502.14,494.60 498.14,492.20 494.15,494.60 495.19,490.06 491.68,487.00 496.32,486.59" fill="#8a5526" stroke="#8a5526" stroke-width="0.5" stroke-linejoin="miter"/><circle cx="498.14" cy="489.40" r="4.1" fill="#dc3a20" stroke="#8a5526" stroke-width="0.5"/>
<text x="505.04" y="493.40" font-size="9.5">7:52pm</text>
<circle cx="525.04" cy="503.1" r="5.0" fill="#ffffcc" stroke="#8f8f88" stroke-width="1"/>
<text x="531.84" y="506.50" font-size="9.5">4:16am</text>
<circle cx="493.88" cy="516.8" r="5.0" fill="#c6c6b8" stroke="#7d7d78" stroke-width="1"/>
<text x="500.68" y="520.40" font-size="9.5">6:30pm</text>
<polygon points="607.96,468.80 609.78,473.09 614.42,473.50 610.90,476.56 611.95,481.10 607.96,478.70 603.96,481.10 605.01,476.56 601.49,473.50 606.13,473.09" fill="#85851f" stroke="#85851f" stroke-width="0.5" stroke-linejoin="miter"/><circle cx="607.96" cy="475.90" r="3.8" fill="#bcbc3e" stroke="#85851f" stroke-width="0.5"/>
<text x="614.86" y="479.20" font-size="9.5">6:17am</text>
<polygon points="574.67,482.30 576.49,486.59 581.13,487.00 577.61,490.06 578.66,494.60 574.67,492.20 570.67,494.60 571.72,490.06 568.20,487.00 572.84,486.59" fill="#8a5526" stroke="#8a5526" stroke-width="0.5" stroke-linejoin="miter"/><circle cx="574.67" cy="489.40" r="4.1" fill="#dc3a20" stroke="#8a5526" stroke-width="0.5"/>
<text x="581.57" y="493.40" font-size="9.5">7:51pm</text>
<circle cx="605.29" cy="503.1" r="5.0" fill="#ffffcc" stroke="#8f8f88" stroke-width="1"/>
<text x="612.09" y="506.50" font-size="9.5">5:25am</text>
<circle cx="573.01" cy="516.8" r="5.0" fill="#c6c6b8" stroke="#7d7d78" stroke-width="1"/>
<text x="579.81" y="520.40" font-size="9.5">7:18pm</text>
<polygon points="684.59,468.80 686.41,473.09 691.05,473.50 687.53,476.56 688.58,481.10 684.59,478.70 680.59,481.10 681.64,476.56 678.12,473.50 682.76,473.09" fill="#85851f" stroke="#85851f" stroke-width="0.5" stroke-linejoin="miter"/><circle cx="684.59" cy="475.90" r="3.8" fill="#bcbc3e" stroke="#85851f" stroke-width="0.5"/>
<text x="691.49" y="479.20" font-size="9.5">6:18am</text>
<polygon points="651.14,482.30 652.96,486.59 657.60,487.00 654.08,490.06 655.13,494.60 651.14,492.20 647.14,494.60 648.19,490.06 644.67,487.00 649.31,486.59" fill="#8a5526" stroke="#8a5526" stroke-width="0.5" stroke-linejoin="miter"/><circle cx="651.14" cy="489.40" r="4.1" fill="#dc3a20" stroke="#8a5526" stroke-width="0.5"/>
<text x="658.04" y="493.40" font-size="9.5">7:49pm</text>
<circle cx="685.75" cy="503.1" r="5.0" fill="#ffffcc" stroke="#8f8f88" stroke-width="1"/>
<text x="692.55" y="506.50" font-size="9.5">6:38am</text>
<circle cx="651.82" cy="516.8" r="5.0" fill="#c6c6b8" stroke="#7d7d78" stroke-width="1"/>
<text x="658.62" y="520.40" font-size="9.5">8:00pm</text>
<text x="656.64" y="533.5" font-size="9.5" text-anchor="end">New Moon</text>
<text x="660.14" y="535" font-size="9.5" text-anchor="middle">|</text>
<text x="664.14" y="534.5" font-size="9.5">10:42pm</text>
</g></svg>
</body></html>
